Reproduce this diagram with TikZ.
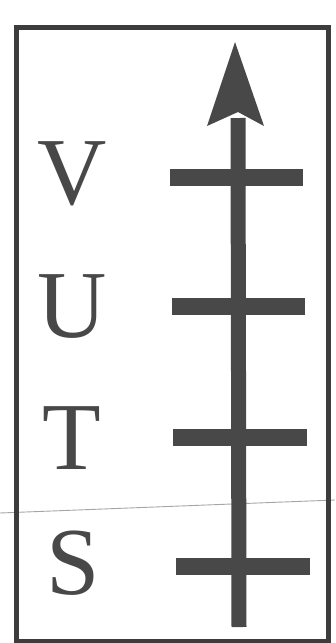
\documentclass[tikz,border=0pt]{standalone}
\usepackage{fontspec}
\setmainfont{Liberation Serif}
\definecolor{ink}{RGB}{72,72,72}
\definecolor{frameink}{RGB}{60,60,60}
\tikzset{
  lbl/.style={inner sep=0pt, text=ink, font=\fontsize{96}{96}\selectfont},
  tickbar/.style={draw=ink, line width=17pt},
  shaft/.style={draw=ink, line width=15pt},
  framebox/.style={draw=frameink, line width=5pt},
}
\begin{document}
\begin{tikzpicture}[x=1pt,y=-1pt]
\useasboundingbox (0,0) rectangle (335,643);
\fill[white] (0,0) rectangle (335,643);
% faint fold line
\draw[gray!70, line width=0.9pt] (0,513) -- (335,500);
% frame
\draw[framebox] (16,27) rectangle (328,641);
% arrow
\coordinate (bot) at (239,627);
\coordinate (top) at (238,118);
\coordinate (tip) at (235,42);
\draw[shaft] (bot) -- (top);
\fill[ink] (tip) -- (264,126) -- (238,112) -- (207,126) -- cycle;
% ticks
\coordinate (v1) at (170,177); \coordinate (v2) at (303,177);
\coordinate (u1) at (172,306); \coordinate (u2) at (305,306);
\coordinate (t1) at (173,437); \coordinate (t2) at (307,437);
\coordinate (s1) at (176,566); \coordinate (s2) at (310,566);
\draw[tickbar] (v1) -- (v2);
\draw[tickbar] (u1) -- (u2);
\draw[tickbar] (t1) -- (t2);
\draw[tickbar] (s1) -- (s2);
% labels
\node[lbl] (V) at (72,174) {V};
\node[lbl] (U) at (72,307) {U};
\node[lbl] (T) at (72,438) {T};
\node[lbl] (S) at (73,563) {S};
\end{tikzpicture}
\end{document}
